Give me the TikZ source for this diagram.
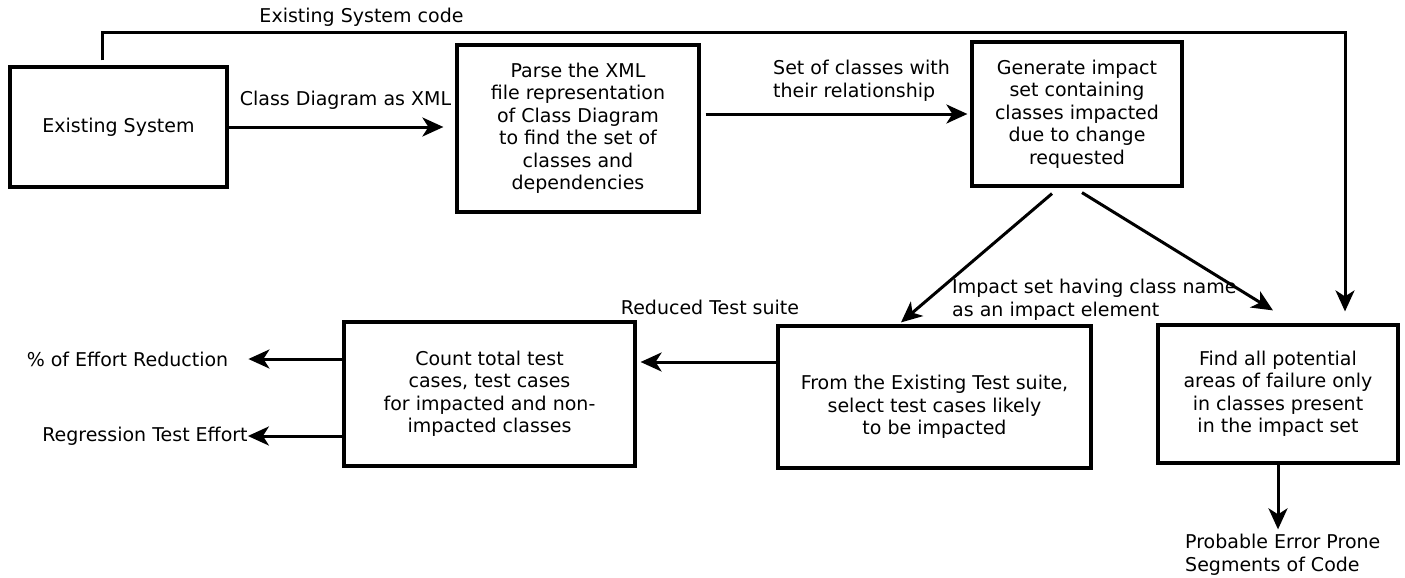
\documentclass[tikz,border=0pt]{standalone}
\usepackage{fontspec}
\setmainfont{DejaVu Sans}
\usetikzlibrary{arrows.meta,calc}
\newcommand\dfont{\fontsize{19}{22.5}\selectfont}
\begin{document}
\begin{tikzpicture}[x=1pt,y=-1pt,
  box/.style={draw, line width=3.2pt, inner sep=0pt, align=center, font=\dfont},
  lbl/.style={inner sep=0pt, font=\dfont},
  arr/.style={line width=3pt, -{Stealth[length=21pt,width=19pt,inset=6pt]}}]
\useasboundingbox (0,0) rectangle (1405,578);

% boxes
\node[box, minimum width=217pt, minimum height=120pt] (es) at (118.5,127) {Existing System};
\node[box, minimum width=242pt, minimum height=167pt] (parse) at (578,128.5) {Parse the XML\\ file representation\\ of Class Diagram\\ to find the set of\\ classes and\\ dependencies};
\node[box, minimum width=210pt, minimum height=144pt] (gen) at (1077,114) {Generate impact\\ set containing\\ classes impacted\\ due to change\\ requested};
\node[box, minimum width=313pt, minimum height=142pt] (from) at (934.5,397) {};
\node[lbl, align=center] (fromtxt) at (934.5,407) {From the Existing Test suite,\\ select test cases likely\\ to be impacted};
\node[box, minimum width=291pt, minimum height=144pt] (count) at (489.5,394) {Count total test\\ cases, test cases\\ for impacted and non-\\ impacted classes};
\node[box, minimum width=240pt, minimum height=138pt] (find) at (1278,394) {Find all potential\\ areas of failure only\\ in classes present\\ in the impact set};

% labels
\node[lbl] (codelbl) at (361.5,17) {Existing System code};
\node[lbl] (xmllbl) at (345.5,100) {Class Diagram as XML};
\node[lbl, align=left, anchor=west] (setlbl) at (773,81) {Set of classes with\\their relationship};
\node[lbl, align=left, anchor=west] (implbl) at (952,300) {Impact set having class name\\as an impact element};
\node[lbl] (redlbl) at (710,307) {Reduced Test suite};
\node[lbl] (eff) at (127.5,359) {\% of Effort Reduction};
\node[lbl] (reg) at (145,436) {Regression Test Effort};
\node[lbl, align=left, anchor=west] (prob) at (1185,555) {Probable Error Prone\\Segments of Code};

% connectors
\coordinate (c1) at (102,33);
\coordinate (c2) at (1345,33);
\draw[arr, shorten <=5pt, shorten >=12pt] (es.north -| c1) -- (c1) -- (c2) -- (c2 |- find.north);
\draw[arr, shorten >=12pt] (es.east) -- (es.east -| parse.west);
\draw[arr, shorten <=5pt, shorten >=3pt] (gen.west -| parse.east) -- (gen.west);
\draw[arr] ([xshift=-25pt,yshift=-6pt]gen.south) -- ([xshift=-33.5pt,yshift=2pt]from.north);
\draw[arr] ([xshift=5pt,yshift=-5pt]gen.south) -- ([xshift=-5pt,yshift=13pt]find.north);
\draw[arr, shorten >=4pt] ([yshift=35pt]from.west) -- ([yshift=35pt]from.west -| count.east);
\draw[arr] (count.west |- eff.east) -- ([xshift=20pt]eff.east);
\draw[arr] (count.west |- reg.east) -- (reg.east);
\draw[arr, shorten >=5pt] (find.south) -- (find.south |- prob.north);
\end{tikzpicture}
\end{document}
